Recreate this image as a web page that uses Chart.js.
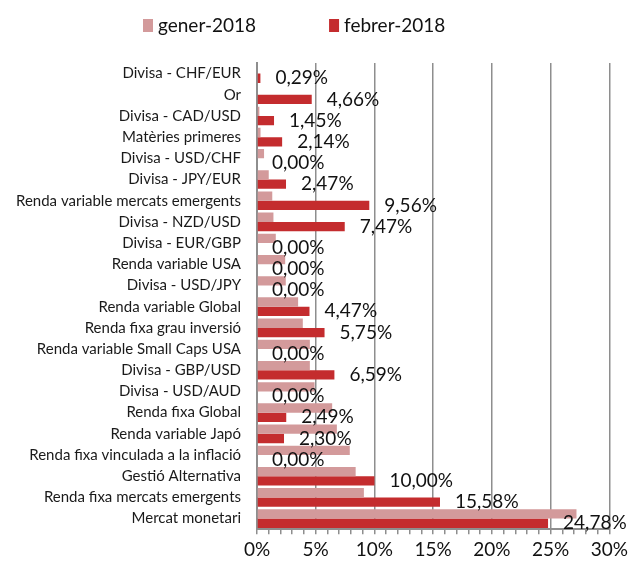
<!DOCTYPE html>
<html>
<head>
<meta charset="utf-8">
<script src="https://cdn.jsdelivr.net/npm/chart.js@4.4.0/dist/chart.umd.min.js"></script>
<style>
  html, body { margin: 0; padding: 0; background: #fff; }
  #wrap { width: 632px; height: 567px; }
</style>
</head>
<body>
<div id="wrap"><canvas id="chart"></canvas></div>
<script>
'use strict';

const categories = [
  'Divisa - CHF/EUR', 'Or', 'Divisa - CAD/USD', 'Matèries primeres',
  'Divisa - USD/CHF', 'Divisa - JPY/EUR', 'Renda variable mercats emergents',
  'Divisa - NZD/USD', 'Divisa - EUR/GBP', 'Renda variable USA', 'Divisa - USD/JPY',
  'Renda variable Global', 'Renda fixa grau inversió', 'Renda variable Small Caps USA',
  'Divisa - GBP/USD', 'Divisa - USD/AUD', 'Renda fixa Global', 'Renda variable Japó',
  'Renda fixa vinculada a la inflació', 'Gestió Alternativa',
  'Renda fixa mercats emergents', 'Mercat monetari'
];
const gener2018 = [0, 0, 0.2, 0.3, 0.6, 1.0, 1.3, 1.4, 1.6, 2.4, 2.45, 3.5, 3.9, 4.5, 4.5, 4.9, 6.4, 6.8, 7.9, 8.4, 9.1, 27.2];
const febrer2018 = [0.29, 4.66, 1.45, 2.14, 0, 2.47, 9.56, 7.47, 0, 0, 0, 4.47, 5.75, 0, 6.59, 0, 2.49, 2.30, 0, 10.00, 15.58, 24.78];
const seriesNames = ['gener-2018', 'febrer-2018'];
const xMin = 0, xMax = 30, xMajor = 5;

const FONT = 'Lato, "Liberation Sans", sans-serif';
const GRID = '#8e8e8e';

function pct(v) {
  return v.toFixed(2).replace('.', ',') + '%';
}

// legend drawn by hand so the gap between the two entries matches
const topLegend = {
  id: 'topLegend',
  afterDraw(chart) {
    const ctx = chart.ctx;
    ctx.save();
    ctx.font = '19px ' + FONT;
    ctx.textBaseline = 'middle';
    let x = 143;
    chart.data.datasets.forEach(ds => {
      ctx.fillStyle = ds.backgroundColor;
      ctx.fillRect(x, 19, 10, 13);
      ctx.fillStyle = '#111';
      ctx.fillText(ds.label, x + 15, 26);
      x += 15 + ctx.measureText(ds.label).width + 73;
    });
    ctx.restore();
  }
};

// febrer values printed to the right of each febrer bar
const valueLabels = {
  id: 'valueLabels',
  afterDatasetsDraw(chart) {
    const ctx = chart.ctx;
    const meta = chart.getDatasetMeta(1);
    const data = chart.data.datasets[1].data;
    ctx.save();
    ctx.font = '19px ' + FONT;
    ctx.fillStyle = '#111';
    ctx.textBaseline = 'middle';
    ctx.textAlign = 'left';
    meta.data.forEach((bar, i) => {
      ctx.fillText(pct(data[i]), bar.x + 15, bar.y);
    });
    ctx.restore();
  }
};

new Chart(document.getElementById('chart'), {
  type: 'bar',
  data: {
    labels: categories,
    datasets: [
      { label: seriesNames[0], data: gener2018, backgroundColor: '#d39a9b' },
      { label: seriesNames[1], data: febrer2018, backgroundColor: '#c42c2e' }
    ]
  },
  options: {
    indexAxis: 'y',
    responsive: true,
    maintainAspectRatio: false,
    animation: false,
    layout: { padding: { top: 63, right: 22, bottom: 2, left: 7 } },
    datasets: { bar: { categoryPercentage: 0.88, barPercentage: 1 } },
    plugins: {
      legend: { display: false },
      tooltip: { enabled: false }
    },
    scales: {
      x: {
        min: xMin,
        max: xMax,
        ticks: {
          stepSize: 1,
          autoSkip: false,
          maxRotation: 0,
          padding: 4,
          color: '#111',
          font: { family: FONT, size: 19 },
          callback: v => (v % xMajor === 0 ? v + '%' : '')
        },
        grid: {
          color: c => (c.tick && c.tick.value % xMajor === 0 ? GRID : 'rgba(0,0,0,0)'),
          lineWidth: 1.5,
          tickColor: GRID,
          tickLength: 5
        },
        border: { color: GRID, width: 2 }
      },
      y: {
        afterFit(scale) { scale.width = 250; },
        ticks: {
          padding: 16,
          color: '#1a1a1a',
          font: { family: FONT, size: 15 }
        },
        grid: { display: false, drawTicks: false },
        border: { color: GRID, width: 2 }
      }
    }
  },
  plugins: [topLegend, valueLabels]
});
</script>
</body>
</html>
